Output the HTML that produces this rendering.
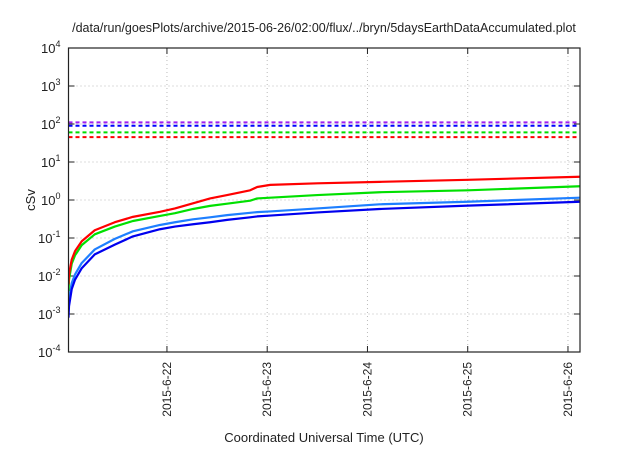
<!DOCTYPE html>
<html><head><meta charset="utf-8"><style>
body{margin:0;background:#fff;}
svg text{font-family:"Liberation Sans",sans-serif;fill:#222;}
</style></head><body>
<svg id="c" width="640" height="448" xmlns="http://www.w3.org/2000/svg"></svg>
<script>
const days=[0.018,0.023,0.05,0.083,0.15,0.28,0.48,0.66,0.93,1.08,1.26,1.43,1.6,1.83,1.9,2.03,2.5,3.12,4.0,5.12];
const redVals=[0.006,0.011,0.027,0.045,0.082,0.16,0.26,0.36,0.49,0.6,0.82,1.1,1.35,1.8,2.2,2.5,2.75,3.0,3.4,4.1];
const greenVals=[0.004,0.008,0.021,0.035,0.065,0.125,0.2,0.28,0.38,0.45,0.58,0.7,0.8,0.96,1.1,1.15,1.35,1.6,1.8,2.3];
const lightBlueVals=[0.0015,0.0025,0.0065,0.011,0.022,0.05,0.095,0.15,0.22,0.26,0.31,0.35,0.4,0.46,0.48,0.5,0.6,0.77,0.9,1.15];
const blueVals=[0.0008,0.0016,0.0045,0.008,0.016,0.037,0.067,0.11,0.17,0.2,0.23,0.26,0.3,0.35,0.37,0.39,0.47,0.58,0.71,0.9];
const limitVals=[110,90,60,45];
const limitColors=['#a020f0','#0000ff','#00dd00','#ff0000'];
const xTickDays=[1,2,3,4,5];
const xTickLabels=['2015-6-22','2015-6-23','2015-6-24','2015-6-25','2015-6-26'];
const yExps=[-4,-3,-2,-1,0,1,2,3,4];

const L=68.5,R=580,T=48,B=352,xmin=0.018,xmax=5.12;
const X=d=>L+(d-xmin)/(xmax-xmin)*(R-L);
const Y=v=>B-(Math.log10(v)+4)/8*(B-T);
const svg=document.getElementById('c');
const NS='http://www.w3.org/2000/svg';
function mk(tag,attrs,parent){const e=document.createElementNS(NS,tag);for(const k in attrs)e.setAttribute(k,attrs[k]);(parent||svg).appendChild(e);return e;}

const defs=mk('defs',{});
const cp=mk('clipPath',{id:'pc'},defs);
mk('rect',{x:L,y:T,width:R-L,height:B-T},cp);

const grid=mk('g',{});


yExps.forEach(e=>{
  const y=Y(Math.pow(10,e));
  if(e>-4&&e<4){const g=mk('line',{x1:L,x2:R,y1:y,y2:y,stroke:'#bbb','stroke-width':1,'stroke-dasharray':'1,3'},grid);}
  mk('line',{x1:L,x2:L+6,y1:y,y2:y,stroke:'#222'},grid);
  mk('line',{x1:R,x2:R-6,y1:y,y2:y,stroke:'#222'},grid);
  const t=mk('text',{x:L-8,y:y+5,'text-anchor':'end','font-size':13});
  
  
  t.innerHTML='10<tspan dy="-6" font-size="9">'+e+'</tspan>';
});
xTickDays.forEach((d,i)=>{
  const x=X(d);
  const g=mk('line',{x1:x,x2:x,y1:T,y2:B,stroke:'#bbb','stroke-width':1,'stroke-dasharray':'1,3'},grid);
  
  
  mk('line',{x1:x,x2:x,y1:B,y2:B-6,stroke:'#222'},grid);
  mk('line',{x1:x,x2:x,y1:T,y2:T+6,stroke:'#222'},grid);
  const t=mk('text',{x:0,y:0,'text-anchor':'end','font-size':12,transform:'translate('+(x+4)+','+(B+10)+') rotate(-90)'});
  
  
  t.textContent=xTickLabels[i];
});
limitVals.forEach((v,i)=>{
  const y=Y(v);
  const l=mk('line',{x1:L,x2:R,y1:y,y2:y,stroke:limitColors[i],'stroke-width':2,'stroke-dasharray':'4,3'});
  
  
});
function series(vals,color,name){
  const p=mk('polyline',{points:days.map((d,i)=>X(d)+','+Y(vals[i])).join(' '),fill:'none',stroke:color,'stroke-width':2.2,'stroke-linejoin':'round','clip-path':'url(#pc)'});
  
  
}
series(lightBlueVals,'#1e7fff','series-light-blue');
series(blueVals,'#0000ee','series-blue');
series(greenVals,'#00e000','series-green');
series(redVals,'#ff0000','series-red');
const fr=mk('rect',{x:L,y:T,width:R-L,height:B-T,fill:'none',stroke:'#222','stroke-width':1.2});


const ti=mk('text',{x:324,y:32,'text-anchor':'middle','font-size':12.5});


ti.textContent='/data/run/goesPlots/archive/2015-06-26/02:00/flux/../bryn/5daysEarthDataAccumulated.plot';
const yt=mk('text',{x:0,y:0,'text-anchor':'middle','font-size':13,transform:'translate(35,200) rotate(-90)'});


yt.textContent='cSv';
const xt=mk('text',{x:324,y:442,'text-anchor':'middle','font-size':13});


xt.textContent='Coordinated Universal Time (UTC)';
</script>
</body></html>
